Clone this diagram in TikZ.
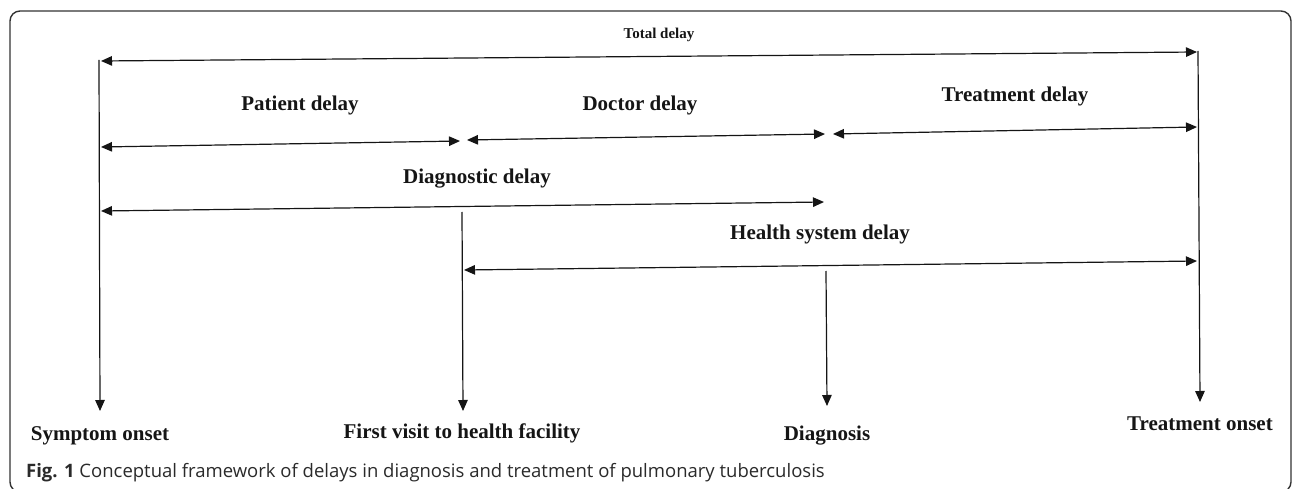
\documentclass[tikz,border=0pt]{standalone}
\usepackage{fontspec}
\setmainfont{Liberation Serif}
\newfontfamily\capfont{Open Sans}
\usetikzlibrary{arrows.meta}
\definecolor{ink}{HTML}{151515}
\definecolor{frame}{HTML}{333333}
\definecolor{captxt}{HTML}{2A2A2A}
\begin{document}
\begin{tikzpicture}[x=1pt,y=-1pt,
  vline/.style={line width=1.2pt, draw=ink, -{Triangle[length=11pt,width=9.5pt]}},
  hline/.style={line width=1.2pt, draw=ink, {Triangle[length=11pt,width=9.5pt]}-{Triangle[length=11pt,width=9.5pt]}},
  lab/.style={font=\fontsize{21}{24}\selectfont\bfseries, text=ink, inner sep=0pt, anchor=base},
  smalllab/.style={font=\fontsize{15}{17}\selectfont\bfseries, text=ink, inner sep=0pt, anchor=base},
  caplab/.style={font=\capfont\fontsize{18.5}{21}\selectfont, text=captxt, inner sep=0pt, anchor=base west}]
\useasboundingbox (0,0) rectangle (1293,489);
\clip (0,0) rectangle (1293,489);
% frame
\draw[frame, line width=1.4pt, rounded corners=10pt] (10,11) rectangle (1291,492);

% coordinates of the time points
\coordinate (sTop) at (99,60);
\coordinate (sEnd) at (100,411);
\coordinate (fTop) at (462,212);
\coordinate (fEnd) at (463,411);
\coordinate (dTop) at (826,271);
\coordinate (dEnd) at (827,406);
\coordinate (tTop) at (1198,51);
\coordinate (tEnd) at (1200,402);

% arrow end points
\coordinate (totL) at (101,61);   \coordinate (totR) at (1197,52);
\coordinate (patL) at (101,147);  \coordinate (patR) at (460,141);
\coordinate (docL) at (467,140);  \coordinate (docR) at (825,134);
\coordinate (treL) at (833,134);  \coordinate (treR) at (1197,127);
\coordinate (diaL) at (101,211);  \coordinate (diaR) at (824,202);
\coordinate (hsdL) at (464,270);  \coordinate (hsdR) at (1197,261);

% vertical lines
\draw[vline] (sTop) -- (sEnd);
\draw[vline] (fTop) -- (fEnd);
\draw[vline] (dTop) -- (dEnd);
\draw[vline] (tTop) -- (tEnd);

% horizontal double arrows
\draw[hline] (totL) -- (totR);
\draw[hline] (patL) -- (patR);
\draw[hline] (docL) -- (docR);
\draw[hline] (treL) -- (treR);
\draw[hline] (diaL) -- (diaR);
\draw[hline] (hsdL) -- (hsdR);

% labels
\node[smalllab] (total) at (659,39) {Total delay};
\node[lab] (patient) at (300,111) {Patient delay};
\node[lab] (doctor) at (640,111) {Doctor delay};
\node[lab] (treatment) at (1015,102) {Treatment delay};
\node[lab] (diagnostic) at (477,184) {Diagnostic delay};
\node[lab] (health) at (820,240) {Health system delay};

\node[lab] (symptom) at (100,440) {Symptom onset};
\node[lab] (firstvisit) at (462,438) {First visit to health facility};
\node[lab] (diagnosis) at (827,440) {Diagnosis};
\node[lab] (treatonset) at (1200,430) {Treatment onset};

% caption
\node[caplab] (caption) at (26,477) {\textbf{Fig. 1} Conceptual framework of delays in diagnosis and treatment of pulmonary tuberculosis};
\end{tikzpicture}
\end{document}
